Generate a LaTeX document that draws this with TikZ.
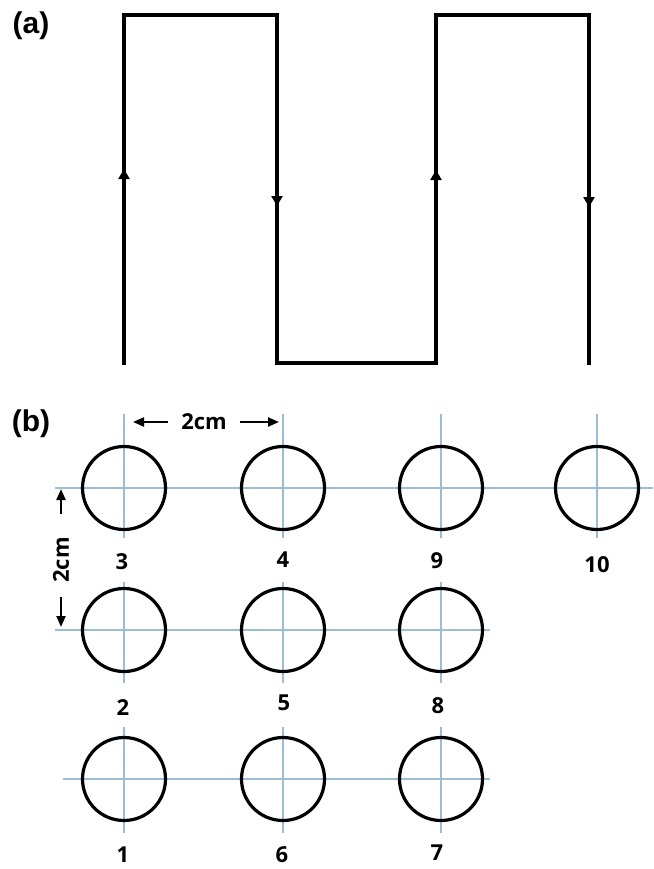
\documentclass[tikz,border=0pt]{standalone}
\usepackage{fontspec}
\setmainfont{Open Sans}
\newfontfamily\tagfont{Liberation Sans}
\usetikzlibrary{arrows.meta}
\definecolor{gridblue}{RGB}{155,190,212}

\begin{document}
\begin{tikzpicture}[x=1pt,y=-1pt,
  wire/.style={line width=3.5pt, line join=miter},
  dir/.style={line width=3.5pt, -{Triangle[width=11pt,length=10pt]}},
  gridline/.style={draw=gridblue, line width=1.8pt},
  hole/.style={circle, draw=black, line width=3.2pt, minimum size=83pt, inner sep=0pt},
  num/.style={font=\bfseries\fontsize{22}{22}\selectfont, inner sep=1pt},
  tag/.style={font=\tagfont\bfseries\fontsize{30}{30}\selectfont},
  dim/.style={line width=2.2pt, -{Triangle[width=9pt,length=11pt]}},
]
\useasboundingbox (0,0) rectangle (653,869);

% ---------- (a) scan path ----------
\node[tag] (ta) at (31,26) {(a)};
\coordinate (s)  at (124,365);
\coordinate (c1) at (124,15);
\coordinate (c2) at (277,15);
\coordinate (c3) at (277,363);
\coordinate (c4) at (436,363);
\coordinate (c5) at (436,15);
\coordinate (c6) at (589,15);
\coordinate (e)  at (589,365);
\draw[wire] (s) -- (c1) -- (c2) -- (c3) -- (c4) -- (c5) -- (c6) -- (e);

% direction marks
\coordinate (u1a) at (124,190); \coordinate (u1b) at (124,169);
\coordinate (d1a) at (277,185); \coordinate (d1b) at (277,206);
\coordinate (u2a) at (436,190); \coordinate (u2b) at (436,170);
\coordinate (d2a) at (589,186); \coordinate (d2b) at (589,207);
\draw[dir] (u1a) -- (u1b);
\draw[dir] (d1a) -- (d1b);
\draw[dir] (u2a) -- (u2b);
\draw[dir] (d2a) -- (d2b);

% ---------- (b) hole layout ----------
\node[tag] (tb) at (31,424) {(b)};

% centre lines
\coordinate (h1a) at (55,488);  \coordinate (h1b) at (653,488);
\coordinate (h2a) at (55,630);  \coordinate (h2b) at (490,630);
\coordinate (h3a) at (63,779);  \coordinate (h3b) at (490,779);
\draw[gridline] (h1a) -- (h1b);
\draw[gridline] (h2a) -- (h2b);
\draw[gridline] (h3a) -- (h3b);

\foreach \x in {124,283,441,597}
  \draw[gridline] (\x,414) -- (\x,538);
\foreach \x in {124,283,441}
  \draw[gridline] (\x,582) -- (\x,683);
\foreach \x in {124,283,441}
  \draw[gridline] (\x,727) -- (\x,833);

% holes
\node[hole] (o3)  at (124,488) {};
\node[hole] (o4)  at (283,488) {};
\node[hole] (o9)  at (441,488) {};
\node[hole] (o10) at (597,488) {};
\node[hole] (o2)  at (124,630) {};
\node[hole] (o5)  at (283,630) {};
\node[hole] (o8)  at (441,630) {};
\node[hole] (o1)  at (124,779) {};
\node[hole] (o6)  at (283,779) {};
\node[hole] (o7)  at (441,779) {};

% hole numbers
\node[num] (n3)  at (122,562) {3};
\node[num] (n4)  at (283,560) {4};
\node[num] (n9)  at (437,561) {9};
\node[num] (n10) at (597,565) {10};
\node[num] (n2)  at (123,708) {2};
\node[num] (n5)  at (284,703) {5};
\node[num] (n8)  at (438,706) {8};
\node[num] (n1)  at (123,855) {1};
\node[num] (n6)  at (282,855) {6};
\node[num] (n7)  at (437,853) {7};

% pitch dimensions
\node[num] (dx) at (204,422) {2cm};
\coordinate (dxl) at (133,422);
\coordinate (dxr) at (279,422);
\draw[dim] (dx.west) ++(-12,0) -- (dxl);
\draw[dim] (dx.east) ++(12,0) -- (dxr);

\node[num, rotate=90] (dy) at (61,560) {2cm};
\coordinate (dyt) at (61,489);
\coordinate (dyb) at (61,627);
\draw[dim] (61,514) -- (dyt);
\draw[dim] (61,597) -- (dyb);
\end{tikzpicture}
\end{document}
